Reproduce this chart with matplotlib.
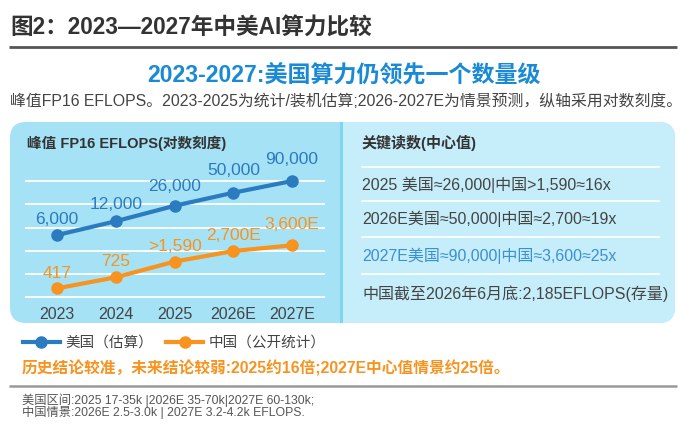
import numpy as np
import matplotlib
matplotlib.use("Agg")
import matplotlib.pyplot as plt
from matplotlib.patches import FancyBboxPatch, Rectangle

plt.rcParams['font.family'] = ['Liberation Sans', 'Noto Sans CJK SC', 'DejaVu Sans']

# --- data ---
years = ["2023", "2024", "2025", "2026E", "2027E"]
us_vals = [6000, 12000, 26000, 50000, 90000]
cn_vals = [417, 725, 1590, 2700, 3600]
us_labels = ["6,000", "12,000", "26,000", "50,000", "90,000"]
cn_labels = ["417", "725", ">1,590", "2,700E", "3,600E"]
grid_vals = [270, 855, 2700, 8550, 28400, 91400]

key_rows = [
    "2025 美国≈26,000|中国>1,590≈16x",
    "2026E美国≈50,000|中国≈2,700≈19x",
    "2027E美国≈90,000|中国≈3,600≈25x",
    "中国截至2026年6月底:2,185EFLOPS(存量)",
]
key_colors = ["#444444", "#444444", "#3a8fd6", "#444444"]

title = "图2：2023—2027年中美AI算力比较"
subtitle = "2023-2027:美国算力仍领先一个数量级"
desc = "峰值FP16 EFLOPS。2023-2025为统计/装机估算;2026-2027E为情景预测，纵轴采用对数刻度。"
note = "历史结论较准，未来结论较弱:2025约16倍;2027E中心值情景约25倍。"
foot1 = "美国区间:2025 17-35k |2026E 35-70k|2027E 60-130k;"
foot2 = "中国情景:2026E 2.5-3.0k | 2027E 3.2-4.2k EFLOPS."

US_C = "#2b7bc1"
CN_C = "#f7931e"

W, H = 693, 444
fig = plt.figure(figsize=(W / 100, H / 100), dpi=100)

# background axes in pixel coords (y down)
bg = fig.add_axes([0, 0, 1, 1])
bg.set_xlim(0, W)
bg.set_ylim(H, 0)
bg.axis("off")

bg.text(10, 28, title, fontsize=16.3, fontweight="bold", color="#333333", va="center", ha="left")
bg.plot([9, 677], [47, 47], color="#555555", lw=2, solid_capstyle="butt")
bg.text(344, 75, subtitle, fontsize=16.6, fontweight="bold", color="#1a8ad4", va="center", ha="center")
bg.text(10, 101, desc, fontsize=11.4, color="#444444", va="center", ha="left")

# panels
bg.add_patch(FancyBboxPatch((10, 122), 665, 201, boxstyle="round,pad=0,rounding_size=16",
                            fc="#a6e2f6", ec="none"))
bg.add_patch(FancyBboxPatch((343, 122), 332, 201, boxstyle="round,pad=0,rounding_size=16",
                            fc="#c6eefa", ec="none"))
bg.add_patch(Rectangle((343, 122), 20, 201, fc="#c6eefa", ec="none"))
bg.add_patch(Rectangle((340, 122), 3, 201, fc="#7fd4f0", ec="none"))

bg.text(27, 143, "峰值 FP16 EFLOPS(对数刻度)", fontsize=10.5, fontweight="bold", color="#333333",
        va="center", ha="left")

# key readings
bg.text(362, 143, "关键读数(中心值)", fontsize=10.8, fontweight="bold", color="#333333",
        va="center", ha="left")
for ys in [167, 201, 237, 274]:
    bg.plot([362, 659], [ys, ys], color="white", lw=1.2)
for txt, c, ys in zip(key_rows, key_colors, [185, 219, 256, 294]):
    bg.text(362, ys, txt, fontsize=11.5, color=c, va="center", ha="left")

# note + footnotes
bg.text(22, 368, note, fontsize=11.3, fontweight="bold", color=CN_C, va="center", ha="left")
bg.plot([9, 677], [386, 386], color="#999999", lw=1.8, solid_capstyle="butt")
bg.text(22, 406, foot1 + "\n" + foot2, fontsize=8.8, color="#555555", va="center", ha="left",
        linespacing=0.95)

# chart axes: x 25->325 px, y 140->300 px
ax = fig.add_axes([25 / W, 1 - 300 / H, 300 / W, 160 / H])
ax.set_facecolor("none")
x = np.arange(len(years))
ax.set_yscale("log")
ax.set_ylim(10 ** 2.367, 10 ** 5.845)
ax.set_xlim(-0.545, 4.56)
ax.set_yticks(grid_vals)
ax.yaxis.set_minor_locator(matplotlib.ticker.NullLocator())
ax.set_yticklabels([])
ax.grid(axis="y", color="white", lw=1.3)
ax.set_axisbelow(True)
ax.tick_params(length=0)
ax.set_xticks(x)
ax.set_xticklabels(years, fontsize=11.5, color="#444444")
ax.tick_params(axis="x", pad=5)
for s in ax.spines.values():
    s.set_visible(False)

l1, = ax.plot(x, us_vals, color=US_C, lw=3, marker="o", ms=8, label="美国（估算）")
l2, = ax.plot(x, cn_vals, color=CN_C, lw=3, marker="o", ms=8, label="中国（公开统计）")

us_off = [16, 17, 19, 22, 21]
cn_off = [15, 16, 15, 16, 21]
for i in range(len(years)):
    ax.annotate(us_labels[i], (x[i], us_vals[i]), xytext=(0, us_off[i] * 0.72),
                textcoords="offset points", ha="center", va="center", fontsize=12.5, color=US_C)
    ax.annotate(cn_labels[i], (x[i], cn_vals[i]), xytext=(0, cn_off[i] * 0.72),
                textcoords="offset points", ha="center", va="center", fontsize=12.5, color=CN_C)

fig.legend(handles=[l1, l2], loc="center left", bbox_to_anchor=(10 / W, 1 - 343 / H),
           ncol=2, frameon=False, fontsize=10.5, handlelength=2.5, handletextpad=0.4,
           columnspacing=0.9, labelcolor="#444444")

fig.savefig("out.png", dpi=100)
